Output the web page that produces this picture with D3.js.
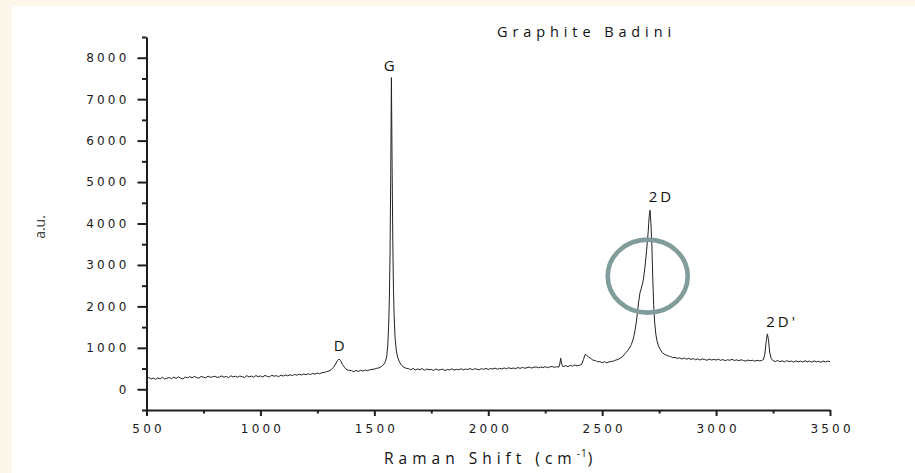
<!DOCTYPE html>
<html>
<head>
<meta charset="utf-8">
<script src="https://cdn.jsdelivr.net/npm/d3@7/dist/d3.min.js"></script>
<style>
  html, body { margin: 0; padding: 0; background: #fdf6ea; }
  svg { display: block; }
</style>
</head>
<body>
<svg id="chart" width="915" height="473"></svg>
<script>
// Raman spectrum of graphite (Badini): shift in cm^-1 and intensity in a.u.
const ramanShift = [
  500,510,520,530,540,550,560,570,580,590,
  600,610,620,630,640,650,660,670,680,690,
  700,710,720,730,740,750,760,770,780,790,
  800,810,820,830,840,850,860,870,880,890,
  900,910,920,930,940,950,960,970,980,990,
  1000,1010,1020,1030,1040,1050,1060,1070,1080,1090,
  1100,1110,1120,1130,1140,1150,1160,1170,1180,1190,
  1200,1210,1220,1230,1240,1250,1260,1270,1280,1290,
  1300,1310,1320,1330,1338,1345,1352,1360,1370,1380,1390,
  1400,1410,1420,1430,1440,1450,1460,1470,1480,1490,
  1500,1510,1520,1530,1540,1548,1554,1559,1563,1566,1569,1572,1575,1578,1581,1584,1587,1591,1596,1602,1610,1620,1630,1640,
  1650,1660,1670,1680,1690,1700,1710,1720,1730,1740,
  1750,1760,1770,1780,1790,1800,1810,1820,1830,1840,
  1850,1860,1870,1880,1890,1900,1910,1920,1930,1940,
  1950,1960,1970,1980,1990,2000,2010,2020,2030,2040,
  2050,2060,2070,2080,2090,2100,2110,2120,2130,2140,
  2150,2160,2170,2180,2190,2200,2210,2220,2230,2240,
  2250,2260,2270,2280,2290,2300,2310,2315,2318,2322,2328,
  2340,2350,2360,2370,2380,2390,2400,2410,2418,2425,2432,2440,
  2450,2460,2470,2480,2490,2500,2510,2520,2530,2540,
  2550,2560,2570,2580,2590,2600,2610,2620,2628,2635,2640,2645,2650,2655,2660,2666,2672,2680,2688,2695,2702,2706,2710,2714,2718,2722,2726,2730,2735,2740,2748,2756,2765,2775,2785,2795,
  2800,2810,2820,2830,2840,2850,2860,2870,2880,2890,
  2900,2910,2920,2930,2940,2950,2960,2970,2980,2990,
  3000,3010,3020,3030,3040,3050,3060,3070,3080,3090,
  3100,3110,3120,3130,3140,3150,3160,3170,3180,3190,
  3200,3208,3214,3220,3225,3230,3235,3242,3250,3260,3270,3280,3290,
  3300,3310,3320,3330,3340,3350,3360,3370,3380,3390,
  3400,3410,3420,3430,3440,3450,3460,3470,3480,3490,3500
];
const intensity = [
  262,285,248,270,240,275,252,290,246,268,
  282,255,295,262,300,270,250,296,275,305,
  278,310,285,268,312,290,275,318,288,300,
  315,285,300,322,290,310,280,325,298,315,
  292,320,302,285,328,300,318,290,330,305,
  322,295,335,310,300,338,315,328,305,340,
  318,345,325,350,330,358,340,362,345,370,
  352,375,358,382,365,390,375,400,405,425,
  440,470,525,610,690,728,690,600,520,470,455,
  450,425,455,430,460,438,465,450,470,480,
  488,505,515,545,590,660,780,1050,1550,2200,3300,5200,7520,5400,3600,2400,1750,1250,950,780,660,575,530,505,
  500,470,505,465,490,475,500,458,488,470,
  480,455,490,462,475,485,450,478,468,492,
  460,482,470,495,465,488,478,500,472,495,
  485,470,498,480,505,478,500,490,510,485,
  505,490,515,495,520,500,512,498,525,505,
  528,508,520,535,512,530,540,518,535,525,
  545,522,540,550,528,545,535,640,750,610,545,
  570,545,578,555,585,565,580,600,720,840,820,780,
  745,700,695,662,668,640,665,638,660,672,
  680,705,720,755,790,860,920,995,1080,1190,1300,1450,1620,1850,2100,2330,2440,2620,2950,3350,3800,4150,4320,4000,3500,2700,2050,1650,1350,1180,1030,950,880,840,815,795,
  790,765,770,745,760,730,755,725,748,720,
  740,712,735,705,730,718,700,728,708,720,
  705,725,698,718,690,712,700,722,695,710,
  690,712,695,680,705,688,700,678,698,686,
  694,720,850,1150,1335,1200,900,740,690,670,695,665,688,
  660,690,668,682,655,685,662,680,658,688,
  664,680,655,685,662,676,650,682,660,678,668
];

// Axis ticks
const xMajorTicks = [500, 1000, 1500, 2000, 2500, 3000, 3500];
const xMinorTicks = [750, 1250, 1750, 2250, 2750, 3250];
const yMajorTicks = [0, 1000, 2000, 3000, 4000, 5000, 6000, 7000, 8000];
const yMinorTicks = [-500, 500, 1500, 2500, 3500, 4500, 5500, 6500, 7500, 8500];

// Band labels, placed just above their peaks
const bandNames = ["D", "G", "2D", "2D'"];
const bandLabelShift = [1352, 1572, 2760, 3290];
const bandLabelLevel = [930, 7680, 4520, 1500];

// Highlight ring around the 2D shoulder
const ringShift = [2700];
const ringLevel = [2730];

const svg = d3.select("#chart");
const W = 915, H = 473;

// White panel
svg.append("rect").attr("x", 12).attr("y", 6).attr("width", W - 12).attr("height", H - 6).attr("fill", "#ffffff");

const x = d3.scaleLinear().domain([500, 3500]).range([146.5, 830]);
const y = d3.scaleLinear().domain([-500, 8500]).range([410, 37]);

const tickFont = "'DejaVu Sans', Verdana, sans-serif";
const ink = "#1e1e1e";

// Spectrum trace
const pts = ramanShift.map((s, i) => [s, intensity[i]]);
svg.append("path")
  .datum(pts)
  .attr("fill", "none")
  .attr("stroke", "#222")
  .attr("stroke-width", 1)
  .attr("stroke-linejoin", "round")
  .attr("d", d3.line().x(d => x(d[0])).y(d => y(d[1])));

// X axis
const xAxisG = svg.append("g").attr("transform", `translate(0,${y(-500)})`);
xAxisG.call(d3.axisBottom(x).tickValues(xMajorTicks).tickSize(6).tickSizeOuter(0).tickFormat(d3.format("d")));
const xMinorG = svg.append("g").attr("transform", `translate(0,${y(-500)})`);
xMinorG.call(d3.axisBottom(x).tickValues(xMinorTicks).tickSize(3.5).tickSizeOuter(0).tickFormat(""));
xMinorG.select(".domain").remove();

// Y axis
const yAxisG = svg.append("g").attr("transform", `translate(${x(500)},0)`);
yAxisG.call(d3.axisLeft(y).tickValues(yMajorTicks).tickSize(9).tickSizeOuter(0).tickFormat(d3.format("d")));
const yMinorG = svg.append("g").attr("transform", `translate(${x(500)},0)`);
yMinorG.call(d3.axisLeft(y).tickValues(yMinorTicks).tickSize(4.5).tickSizeOuter(0).tickFormat(""));
yMinorG.select(".domain").remove();

svg.selectAll(".domain").attr("stroke", ink).attr("stroke-width", 2);
svg.selectAll(".tick line").attr("stroke", ink).attr("stroke-width", 2);

xAxisG.selectAll(".tick text")
  .attr("y", 14)
  .attr("dx", "1.6px")
  .style("font-family", tickFont)
  .style("font-size", "12px")
  .style("letter-spacing", "3.2px")
  .attr("fill", "#1a1a1a");

yAxisG.selectAll(".tick text")
  .attr("x", -17)
  .style("font-family", tickFont)
  .style("font-size", "12px")
  .style("letter-spacing", "3.2px")
  .attr("fill", "#1a1a1a");

// Title
svg.append("text")
  .attr("x", 497).attr("y", 37)
  .style("font-family", "'Open Sans', sans-serif")
  .style("font-size", "14.5px")
  .style("letter-spacing", "4.9px")
  .attr("fill", "#111")
  .text("Graphite Badini");

// Axis titles
const xTitle = svg.append("text")
  .attr("x", 384).attr("y", 464)
  .style("font-family", "'Open Sans', sans-serif")
  .style("font-size", "15.5px")
  .style("letter-spacing", "5px")
  .attr("fill", "#111");
xTitle.append("tspan").text("Raman Shift (cm");
xTitle.append("tspan").attr("dy", -7).style("font-size", "10px").style("letter-spacing", "1px").text("-1");
xTitle.append("tspan").attr("dy", 7).text(")");

svg.append("text")
  .attr("transform", "translate(45,227) rotate(-90)")
  .attr("text-anchor", "middle")
  .style("font-family", "'Open Sans', sans-serif")
  .style("font-size", "14px")
  .attr("fill", "#444")
  .text("a.u.");

// Band labels
svg.selectAll(".band")
  .data(bandNames)
  .enter().append("text")
  .attr("class", "band")
  .attr("x", (d, i) => x(bandLabelShift[i]))
  .attr("y", (d, i) => y(bandLabelLevel[i]))
  .attr("text-anchor", "middle")
  .style("font-family", "'Open Sans', sans-serif")
  .style("font-size", "15px")
  .style("letter-spacing", "3px")
  .attr("fill", "#111")
  .text(d => d);

// Highlight ring
svg.selectAll(".ring")
  .data(ringShift)
  .enter().append("ellipse")
  .attr("class", "ring")
  .attr("cx", d => x(d))
  .attr("cy", (d, i) => y(ringLevel[i]))
  .attr("rx", 40)
  .attr("ry", 36.5)
  .attr("fill", "none")
  .attr("stroke", "#809d9c")
  .attr("stroke-width", 4.6);
</script>
</body>
</html>
